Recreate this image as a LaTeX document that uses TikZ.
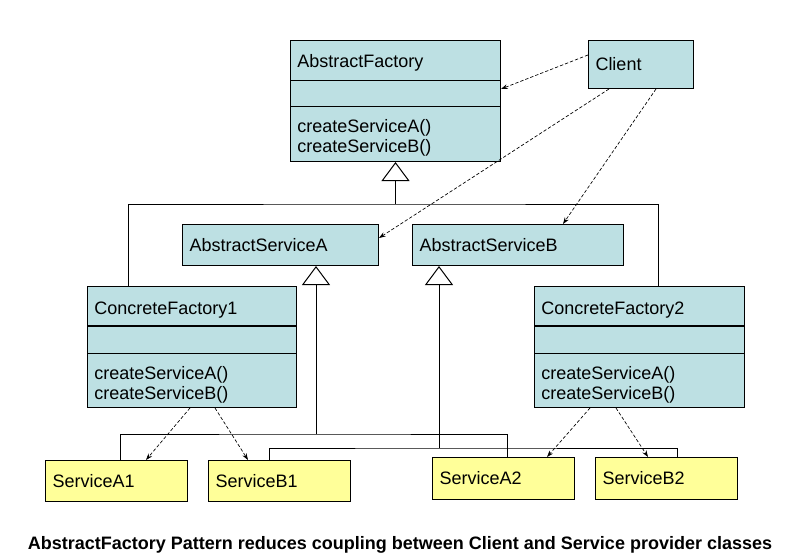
\documentclass[tikz,border=0pt]{standalone}
\usepackage{fontspec}
\setmainfont{Liberation Sans}
\usetikzlibrary{arrows.meta}
\definecolor{classblue}{RGB}{189,224,227}
\definecolor{implyellow}{RGB}{255,255,153}
\tikzset{
  cls/.style={draw, line width=0.75pt, fill=classblue, inner sep=0pt, anchor=north west},
  box/.style={draw, line width=0.75pt, fill=classblue, inner xsep=5.25pt, inner ysep=0pt,
    minimum height=30.75pt, align=left, anchor=north west},
  impl/.style={box, fill=implyellow, text width=96pt},
  lbl/.style={anchor=west, inner sep=0pt, align=left},
  dep/.style={->, line width=0.5pt, dash pattern=on 2.5pt off 1.5pt},
  gen/.style={line width=0.75pt, -{Triangle[open, length=14.25pt, width=21pt]}},
  tree/.style={line width=0.75pt}
}
\begin{document}
\begin{tikzpicture}[x=0.75pt, y=-0.75pt, >={Stealth[length=5pt, width=3.5pt]},
  font=\fontsize{13.5}{15.2}\selectfont]
    \useasboundingbox (0,0) rectangle (807,560);
    % factory classes
    \node[cls, minimum width=157.5pt, minimum height=90.75pt] (AF) at (290,40) {};
    \node[cls, minimum width=156.75pt, minimum height=90.75pt] (CF1) at (87,286) {};
    \node[cls, minimum width=157.5pt, minimum height=90.75pt] (CF2) at (534,286) {};
    \node[lbl] (AFname) at ([xshift=5.25pt]AF.west |- 0,62.5) {AbstractFactory};
    \node[lbl] (AFops) at ([xshift=5.25pt]AF.west |- 0,138) {createServiceA()\\createServiceB()};
    \node[lbl] (CF1name) at ([xshift=5.25pt]CF1.west |- 0,310) {ConcreteFactory1};
    \node[lbl] (CF1ops) at ([xshift=5.25pt]CF1.west |- 0,384.5) {createServiceA()\\createServiceB()};
    \node[lbl] (CF2name) at ([xshift=5.25pt]CF2.west |- 0,310) {ConcreteFactory2};
    \node[lbl] (CF2ops) at ([xshift=5.25pt]CF2.west |- 0,384.5) {createServiceA()\\createServiceB()};
    \draw[tree] (AF.west |- 0,81) -- (AF.east |- 0,81);
    \draw[tree] (AF.west |- 0,107) -- (AF.east |- 0,107);
    \draw[line width=1.5pt] (CF1.west |- 0,326) -- (CF1.east |- 0,326);
    \draw[tree] (CF1.west |- 0,353) -- (CF1.east |- 0,353);
    \draw[line width=1.5pt] (CF2.west |- 0,326) -- (CF2.east |- 0,326);
    \draw[tree] (CF2.west |- 0,353) -- (CF2.east |- 0,353);
    % client and abstract services
    \node[box, text width=68.25pt, minimum height=36pt] (Cl) at (588,40) {Client};
    \node[box, text width=136.5pt] (ASA) at (182,224) {AbstractServiceA};
    \node[box, text width=147.75pt] (ASB) at (412,224) {AbstractServiceB};
    % concrete services
    \node[impl] (SA1) at (45,460) {ServiceA1};
    \node[impl] (SB1) at (208,460) {ServiceB1};
    \node[impl, minimum height=31.5pt] (SA2) at (432,457) {ServiceA2};
    \node[impl, minimum height=31.5pt] (SB2) at (595,457) {ServiceB2};
    % inheritance
    \coordinate (jAF) at (AF.south |- 0,204);
    \coordinate (jA) at (316,434);
    \coordinate (jB) at (439,448);
    \draw[tree] (CF1.north -| 128,0) |- (jAF) -| (CF2.north -| 658,0);
    \draw[gen] (jAF) -- (AF.south);
    \draw[tree] (SA1.north -| 120,0) |- (jA) -| (SA2.north -| 507,0);
    \draw[gen] (jA) -- (ASA.south -| jA);
    \draw[tree] (SB1.north -| 269,0) |- (jB) -| (SB2.north -| 677,0);
    \draw[gen] (jB) -- (ASB.south -| jB);
    % dependencies
    \draw[dep] (Cl.west |- 0,55) -- (AF.east |- 0,89);
    \draw[dep] (Cl.south -| 609,0) -- (ASA.east |- 0,238);
    \draw[dep] (Cl.south -| 656,0) -- (ASB.north -| 563,0);
    \draw[dep] (CF1.south -| 190,0) -- (SA1.north -| 146,0);
    \draw[dep] (CF1.south -| 215,0) -- (SB1.north -| 248,0);
    \draw[dep] (CF2.south -| 590,0) -- (SA2.north -| 547,0);
    \draw[dep] (CF2.south -| 616,0) -- (SB2.north -| 648,0);
    % caption
    \node[font=\fontsize{13.5}{15}\selectfont\bfseries] (title) at (400,545)
      {AbstractFactory Pattern reduces coupling between Client and Service provider classes};
\end{tikzpicture}
\end{document}
